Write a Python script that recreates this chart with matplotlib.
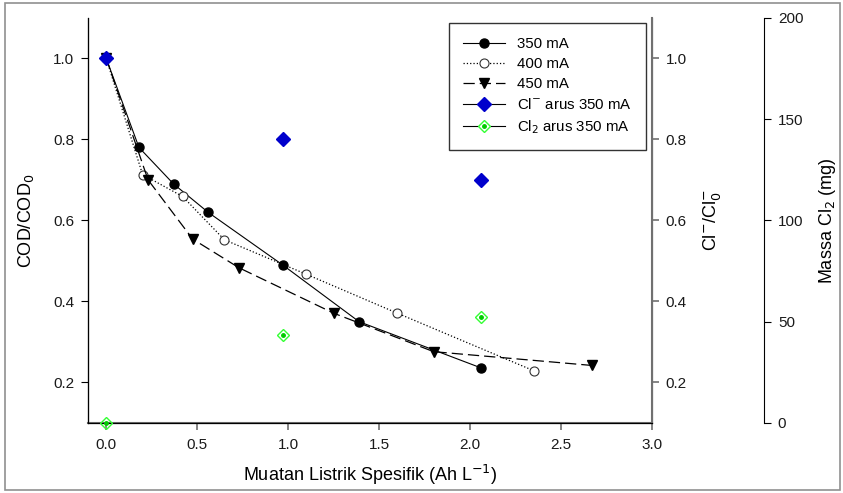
import matplotlib.pyplot as plt
from matplotlib.lines import Line2D
from matplotlib.patches import Rectangle
from matplotlib.legend_handler import HandlerTuple

plt.rcParams['font.family'] = ['Liberation Sans', 'DejaVu Sans']

# COD/COD0 vs specific charge
x350 = [0.0, 0.18, 0.37, 0.56, 0.97, 1.39, 2.06]
y350 = [1.0, 0.78, 0.69, 0.62, 0.49, 0.35, 0.236]
x400 = [0.0, 0.20, 0.42, 0.65, 1.10, 1.60, 2.35]
y400 = [1.0, 0.713, 0.659, 0.552, 0.467, 0.371, 0.229]
x450 = [0.0, 0.23, 0.475, 0.73, 1.25, 1.80, 2.67]
y450 = [1.0, 0.70, 0.554, 0.483, 0.371, 0.276, 0.242]

# chloride ratio and Cl2 mass at 350 mA
x_cl = [0.0, 0.97, 2.06]
cl_ratio = [1.0, 0.80, 0.70]
cl2_mass = [0.0, 43.5, 52.5]

gray = '#707070'

fig = plt.figure(figsize=(8.43, 4.93), dpi=100)
fig.patches.append(Rectangle((0.006, 0.006), 0.99, 0.988, transform=fig.transFigure,
                             fill=False, edgecolor='#909090', lw=1.2))
ax = fig.add_axes([0.1044, 0.142, 0.669, 0.822])

l1, = ax.plot(x350, y350, '-', color='black', lw=0.8, marker='o', ms=6.5, mfc='black', mec='black')
l2, = ax.plot(x400, y400, ':', color='black', lw=0.9, marker='o', ms=6.5, mfc='white', mec='#333333', mew=0.8)
l3, = ax.plot(x450, y450, color='black', lw=0.9, dashes=(9, 4), marker='v', ms=7, mfc='black', mec='black')
ax.set_xlim(-0.1, 3.0)
ax.set_ylim(0.1, 1.1)
ax.set_xticks([0.0, 0.5, 1.0, 1.5, 2.0, 2.5, 3.0])
ax.set_yticks([0.2, 0.4, 0.6, 0.8, 1.0])
ax.set_xticklabels(['0.0', '0.5', '1.0', '1.5', '2.0', '2.5', '3.0'])
ax.spines['top'].set_visible(False)
ax.spines['bottom'].set_color(gray)
ax.spines['bottom'].set_linewidth(1.5)
ax.tick_params(axis='x', colors=gray, labelcolor='#1a1a1a', labelsize=11, length=5, width=1.2, pad=6)
ax.tick_params(axis='y', labelcolor='#1a1a1a', labelsize=11, length=5, pad=5)
ax.set_xlabel('Muatan Listrik Spesifik (Ah L$^{-1}$)', fontsize=13, labelpad=8)
ax.set_ylabel('COD/COD$_0$', fontsize=13, labelpad=12)

# second axis: Cl-/Cl-0 (same scale)
ax2 = ax.twinx()
ax2.set_ylim(0.1, 1.1)
ax2.set_yticks([0.2, 0.4, 0.6, 0.8, 1.0])
ax2.plot(x_cl, cl_ratio, 'D', color='#0000CC', ms=7.5, zorder=5)
ax2.spines['top'].set_visible(False)
ax2.spines['right'].set_color(gray)
ax2.spines['right'].set_linewidth(1.5)
ax2.tick_params(axis='y', colors=gray, labelcolor='#1a1a1a', labelsize=11, length=5, width=1.2, pad=5)
ax2.set_ylabel('Cl$^{-}$/Cl$^{-}_0$', fontsize=13, labelpad=10)

# third axis: Cl2 mass
ax3 = ax.twinx()
ax3.spines['right'].set_position(('axes', 1.1986))
ax3.spines['top'].set_visible(False)
ax3.set_ylim(0, 200)
ax3.set_yticks([0, 50, 100, 150, 200])
ax3.plot(x_cl, cl2_mass, 'D', ms=6, mfc='none', mec='#33FF33', mew=1.0, zorder=6, clip_on=False)
ax3.plot(x_cl, cl2_mass, 'o', ms=2.5, color='#00CC00', zorder=7, clip_on=False)
ax3.tick_params(axis='y', labelcolor='#1a1a1a', labelsize=11, length=5, pad=5)
ax3.set_ylabel('Massa Cl$_2$ (mg)', fontsize=13, labelpad=10)

h4 = Line2D([], [], color='black', lw=0.8, marker='D', ms=7.5, mfc='#0000CC', mec='#0000CC')
h5a = Line2D([], [], color='black', lw=0.8)
h5b = Line2D([], [], ls='none', marker='D', ms=6, mfc='white', mec='#33FF33')
h5c = Line2D([], [], ls='none', marker='o', ms=2.5, color='#00CC00')
leg = ax3.legend([l1, l2, l3, h4, (h5a, h5b, h5c)],
                 ['350 mA', '400 mA', '450 mA', 'Cl$^{-}$ arus 350 mA', 'Cl$_2$ arus 350 mA'],
                 handler_map={tuple: HandlerTuple(ndivide=1, pad=0)},
                 loc='upper left', bbox_to_anchor=(0.640, 0.987), frameon=True, fancybox=False,
                 edgecolor='black', fontsize=10.8, handlelength=2.8, handletextpad=0.8,
                 borderpad=0.95, labelspacing=0.4, borderaxespad=0)
leg.get_frame().set_linewidth(1.0)

fig.savefig('out.png', dpi=100)
